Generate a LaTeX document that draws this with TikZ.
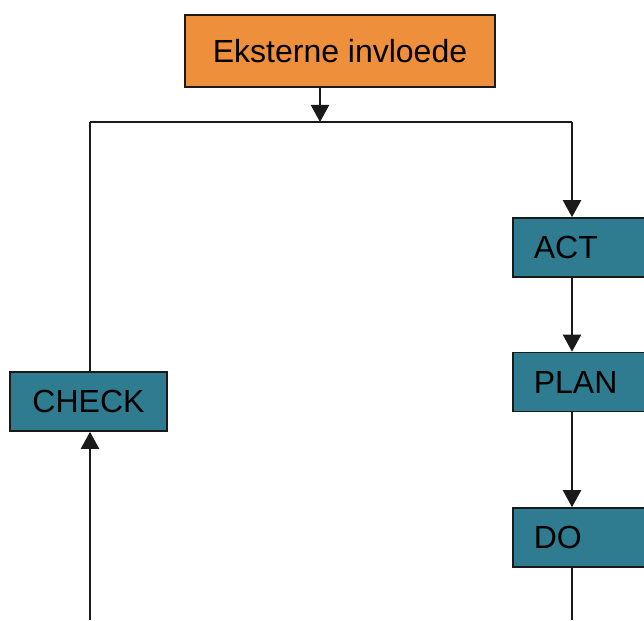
\documentclass[tikz,border=0pt]{standalone}
\usepackage{fontspec}
\setmainfont{Liberation Sans}
\usetikzlibrary{arrows.meta}
\definecolor{boxorange}{HTML}{EE8F3C}
\definecolor{boxteal}{HTML}{2F7C90}
\definecolor{edge}{HTML}{1A1A1A}
\tikzset{
  base/.style={draw=edge, line width=1.6pt, inner sep=0pt, font=\fontsize{32}{37}\selectfont, text=black},
  orangebox/.style={base, fill=boxorange, minimum width=310pt, minimum height=72pt},
  tealbox/.style={base, fill=boxteal, minimum height=59pt},
  tealopen/.style={tealbox, anchor=west, text width=170pt, inner xsep=21pt, align=left},
  conn/.style={draw=edge, line width=2.2pt},
  arr/.style={conn, -{Triangle[length=17pt,width=18pt]}}
}
\begin{document}
\begin{tikzpicture}[x=1pt,y=-1pt]
\useasboundingbox (0,0) rectangle (644,620);
\clip (0,0) rectangle (644,620);
\coordinate (T) at (320,0);
\coordinate (R) at (572,0);
\coordinate (L) at (90,0);
\coordinate (junc) at (320,122);
\coordinate (cornerL) at (90,122);
\coordinate (cornerR) at (572,122);
\coordinate (bottomL) at (90,620);
\coordinate (bottomR) at (572,620);
\node[orangebox] (ext) at (340,51) {Eksterne invloede};
\node[tealopen] (act) at (512,247.5) {ACT};
\node[tealopen] (plan) at (512,382) {PLAN};
\node[tealopen] (do) at (512,537.5) {DO};
\node[tealbox, minimum width=157pt] (check) at (88.5,401.5) {CHECK};
\draw[arr] (ext.south -| T) -- (junc);
\draw[conn] (cornerL) -- (cornerR);
\draw[arr] (cornerR) -- (act.north -| R);
\draw[arr] (act.south -| R) -- (plan.north -| R);
\draw[arr] (plan.south -| R) -- (do.north -| R);
\draw[conn] (do.south -| R) -- (bottomR);
\draw[conn] (check.north -| L) -- (cornerL);
\draw[arr] (bottomL) -- (check.south -| L);
\end{tikzpicture}
\end{document}
